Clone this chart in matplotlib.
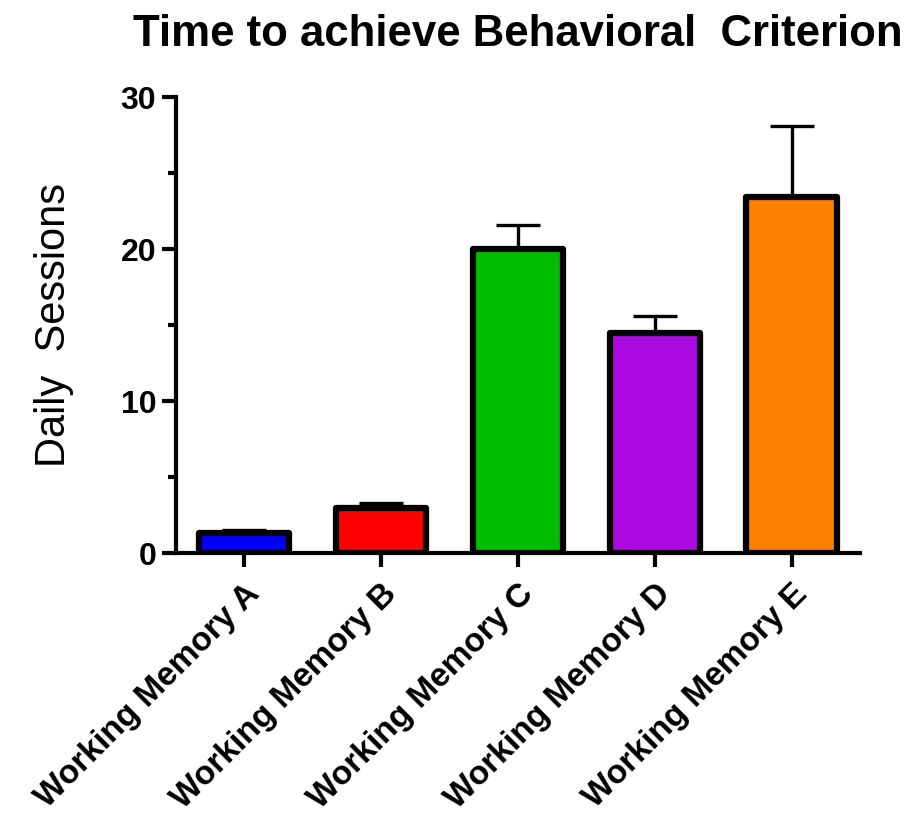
import numpy as np
import matplotlib.pyplot as plt
from matplotlib.ticker import MultipleLocator

plt.rcParams['font.family'] = ['Liberation Sans', 'DejaVu Sans']

# Data
groups = ["Working Memory A", "Working Memory B", "Working Memory C",
          "Working Memory D", "Working Memory E"]
means = [1.3, 3.0, 20.0, 14.5, 23.4]
sem_upper = [0.2, 0.3, 1.6, 1.1, 4.7]
colors = ["#0000FF", "#FF0000", "#00BF00", "#AA0BE0", "#FF8000"]

fig = plt.figure(figsize=(9.11, 8.16), dpi=100)
ax = fig.add_axes([0.193, 0.322, 0.751, 0.559])

x = np.arange(len(groups))
ax.errorbar(x, means, yerr=[np.zeros(len(means)), sem_upper], fmt='none',
            ecolor='black', elinewidth=2.4, capsize=16, capthick=2.4, zorder=1)
bars = ax.bar(x, means, width=0.66, color=colors, edgecolor='black',
              linewidth=4.5, zorder=2)
for b in bars:
    b.set_joinstyle('round')

ax.set_xlim(-0.5, 4.5)
ax.set_ylim(0, 30)
ax.yaxis.set_major_locator(MultipleLocator(10))
ax.yaxis.set_minor_locator(MultipleLocator(5))
ax.set_xticks(x)
ax.set_xticklabels(groups, rotation=45, ha='right', rotation_mode='anchor',
                   fontsize=24, fontweight='bold')
for lbl in ax.get_yticklabels():
    lbl.set_fontsize(23)
    lbl.set_fontweight('bold')

for side in ['top', 'right']:
    ax.spines[side].set_visible(False)
for side in ['left', 'bottom']:
    ax.spines[side].set_linewidth(3)
ax.tick_params(axis='x', which='major', width=3, length=10, pad=8)
ax.tick_params(axis='y', which='major', width=3, length=10, pad=4)
ax.tick_params(axis='y', which='minor', width=3, length=6)

ax.set_ylabel("Daily  Sessions", fontsize=30, labelpad=34)
ax.set_title("Time to achieve Behavioral  Criterion", fontsize=31.5,
             fontweight='bold', pad=37)

fig.savefig("out.png", dpi=100)
